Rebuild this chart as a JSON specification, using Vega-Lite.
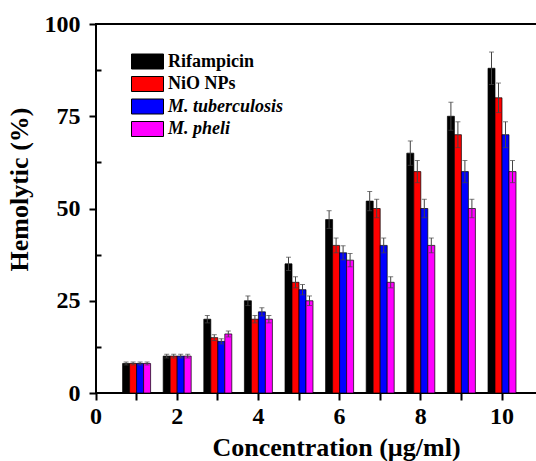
{
  "$schema": "https://vega.github.io/schema/vega-lite/v6.json",
  "width": 444,
  "height": 369,
  "autosize": {"type": "none"},
  "padding": {"left": 96, "top": 24, "right": 0, "bottom": 68},
  "background": "white",
  "config": {
    "font": "Liberation Serif",
    "view": {"stroke": "black", "strokeWidth": 2},
    "axis": {
      "grid": false,
      "domain": false,
      "tickColor": "black",
      "tickWidth": 2,
      "tickSize": 7,
      "labelFont": "Liberation Serif",
      "labelFontSize": 24,
      "labelFontWeight": "bold",
      "labelColor": "black",
      "titleFont": "Liberation Serif",
      "titleFontSize": 27,
      "titleFontWeight": "bold",
      "titleColor": "black"
    }
  },
  "data": {
    "values": [
      {"conc": 1, "series": "Rifampicin", "value": 8, "err": 0.4},
      {"conc": 1, "series": "NiO NPs", "value": 8, "err": 0.4},
      {"conc": 1, "series": "M. tuberculosis", "value": 8, "err": 0.4},
      {"conc": 1, "series": "M. pheli", "value": 8, "err": 0.4},
      {"conc": 2, "series": "Rifampicin", "value": 10, "err": 0.5},
      {"conc": 2, "series": "NiO NPs", "value": 10, "err": 0.5},
      {"conc": 2, "series": "M. tuberculosis", "value": 10, "err": 0.5},
      {"conc": 2, "series": "M. pheli", "value": 10, "err": 0.5},
      {"conc": 3, "series": "Rifampicin", "value": 20, "err": 1},
      {"conc": 3, "series": "NiO NPs", "value": 15, "err": 0.8},
      {"conc": 3, "series": "M. tuberculosis", "value": 14, "err": 0.7},
      {"conc": 3, "series": "M. pheli", "value": 16, "err": 0.8},
      {"conc": 4, "series": "Rifampicin", "value": 25, "err": 1.3},
      {"conc": 4, "series": "NiO NPs", "value": 20, "err": 1},
      {"conc": 4, "series": "M. tuberculosis", "value": 22, "err": 1.1},
      {"conc": 4, "series": "M. pheli", "value": 20, "err": 1},
      {"conc": 5, "series": "Rifampicin", "value": 35, "err": 1.8},
      {"conc": 5, "series": "NiO NPs", "value": 30, "err": 1.5},
      {"conc": 5, "series": "M. tuberculosis", "value": 28, "err": 1.4},
      {"conc": 5, "series": "M. pheli", "value": 25, "err": 1.3},
      {"conc": 6, "series": "Rifampicin", "value": 47, "err": 2.4},
      {"conc": 6, "series": "NiO NPs", "value": 40, "err": 2},
      {"conc": 6, "series": "M. tuberculosis", "value": 38, "err": 1.9},
      {"conc": 6, "series": "M. pheli", "value": 36, "err": 1.8},
      {"conc": 7, "series": "Rifampicin", "value": 52, "err": 2.6},
      {"conc": 7, "series": "NiO NPs", "value": 50, "err": 2.5},
      {"conc": 7, "series": "M. tuberculosis", "value": 40, "err": 2},
      {"conc": 7, "series": "M. pheli", "value": 30, "err": 1.5},
      {"conc": 8, "series": "Rifampicin", "value": 65, "err": 3.3},
      {"conc": 8, "series": "NiO NPs", "value": 60, "err": 3},
      {"conc": 8, "series": "M. tuberculosis", "value": 50, "err": 2.5},
      {"conc": 8, "series": "M. pheli", "value": 40, "err": 2},
      {"conc": 9, "series": "Rifampicin", "value": 75, "err": 3.8},
      {"conc": 9, "series": "NiO NPs", "value": 70, "err": 3.5},
      {"conc": 9, "series": "M. tuberculosis", "value": 60, "err": 3},
      {"conc": 9, "series": "M. pheli", "value": 50, "err": 2.5},
      {"conc": 10, "series": "Rifampicin", "value": 88, "err": 4.4},
      {"conc": 10, "series": "NiO NPs", "value": 80, "err": 4},
      {"conc": 10, "series": "M. tuberculosis", "value": 70, "err": 3.5},
      {"conc": 10, "series": "M. pheli", "value": 60, "err": 3}
    ]
  },
  "encoding": {
    "x": {
      "field": "conc",
      "type": "ordinal",
      "scale": {
        "domain": [0, 1, 2, 3, 4, 5, 6, 7, 8, 9, 10],
        "range": [-20.3, 426.3],
        "paddingInner": 0,
        "paddingOuter": 0
      },
      "axis": {
        "labelAngle": 0,
        "labelExpr": "datum.value % 2 == 0 ? datum.label : ''",
        "title": "Concentration (µg/ml)",
        "titleX": 240,
        "titleFontSize": 26,
        "labelPadding": 4,
        "titlePadding": 6
      }
    },
    "xOffset": {
      "field": "series",
      "type": "nominal",
      "sort": ["Rifampicin", "NiO NPs", "M. tuberculosis", "M. pheli"],
      "scale": {"paddingInner": 0, "paddingOuter": 0.9}
    }
  },
  "layer": [
    {
      "mark": {"type": "bar", "stroke": "black", "strokeWidth": 0.7},
      "encoding": {
        "y": {
          "field": "value",
          "type": "quantitative",
          "scale": {"domain": [0, 100], "nice": false},
          "axis": {
            "values": [0, 12.5, 25, 37.5, 50, 62.5, 75, 87.5, 100],
            "labelExpr": "datum.value % 25 == 0 ? datum.label : ''",
            "tickSize": {"condition": {"test": "datum.value % 25 != 0", "value": -5}, "value": 7},
            "title": "Hemolytic (%)",
            "titleFontSize": 26,
            "titleY": 165,
            "titlePadding": 12,
            "labelPadding": 9
          }
        },
        "color": {
          "field": "series",
          "type": "nominal",
          "sort": ["Rifampicin", "NiO NPs", "M. tuberculosis", "M. pheli"],
          "scale": {"range": ["#000000", "#ff0000", "#0000ff", "#ff00ff"]},
          "legend": {
            "title": null,
            "orient": "none",
            "legendX": 41,
            "legendY": 27,
            "padding": 0,
            "symbolType": "M-1.6,-0.75H1.6V0.75H-1.6Z",
            "symbolSize": 400,
            "symbolStrokeColor": "black",
            "symbolStrokeWidth": 1,
            "symbolOpacity": 1,
            "labelFont": "Liberation Serif",
            "labelFontSize": 18,
            "labelFontWeight": "bold",
            "labelColor": "black",
            "labelFontStyle": {"expr": "test(/^M\\./, datum.label) ? 'italic' : 'normal'"},
            "rowPadding": 2.5,
            "labelOffset": 10
          }
        }
      }
    },
    {
      "mark": {"type": "errorbar", "ticks": {"color": "#444", "size": 5}, "rule": {"color": "#444"}},
      "encoding": {
        "y": {"field": "value", "type": "quantitative", "title": "Hemolytic (%)"},
        "yError": {"field": "err"}
      }
    }
  ]
}
